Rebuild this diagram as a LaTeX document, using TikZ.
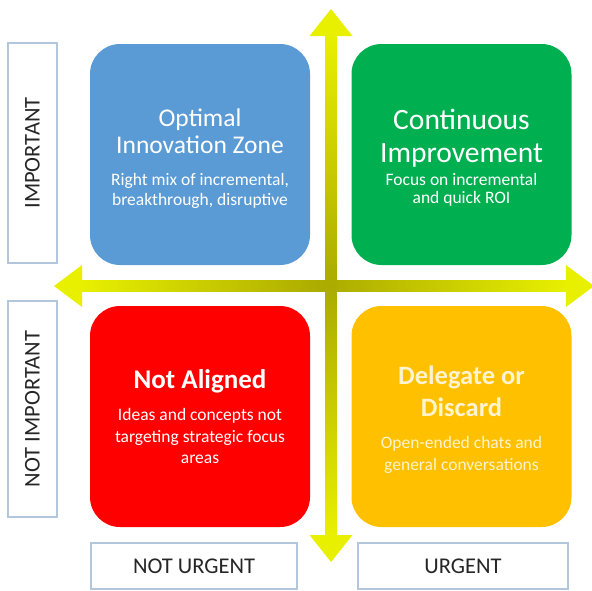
\documentclass[tikz,border=0pt]{standalone}
\usepackage{fontspec}
\setmainfont{Carlito}
\usetikzlibrary{calc}
\definecolor{qblue}{HTML}{5B9BD5}
\definecolor{qgreen}{HTML}{00B050}
\definecolor{qred}{HTML}{FF0000}
\definecolor{qgold}{HTML}{FFC000}
\definecolor{axisyellow}{HTML}{E8F000}
\definecolor{axisolive}{HTML}{ABAA00}
\definecolor{labelframe}{HTML}{B4C6DC}
\definecolor{labeltext}{HTML}{262626}
\definecolor{cream}{HTML}{FFF3D0}
\begin{document}
\begin{tikzpicture}[x=1pt,y=-1pt,
  quad/.style={rounded corners=30pt,inner sep=0pt,minimum width=220pt,minimum height=221pt},
  axislabel/.style={draw=labelframe,line width=1.1pt,fill=white,inner sep=0pt,text=labeltext,
    font=\fontsize{22.5}{26}\selectfont},
  qtitle/.style={text=white,align=center,inner sep=0pt},
  qtext/.style={text=white,align=center,inner sep=0pt,font=\fontsize{17.5}{20}\selectfont},
  axishead/.style={fill=axisyellow},
]
\useasboundingbox (0,0) rectangle (592,590);
\begin{scope}
\clip (0,0) rectangle (592,590);

% four quadrants
\node[quad,fill=qblue]  (q1) at (200,154.5) {};
\node[quad,fill=qgreen] (q2) at (461.5,154.5) {};
\node[quad,fill=qred]   (q3) at (200,416.5) {};
\node[quad,fill=qgold]  (q4) at (461.5,416.5) {};

% quadrant texts
\node[qtitle,font=\fontsize{25.5}{27}\selectfont] (t1) at (200,131) {Optimal\\Innovation Zone};
\node[qtext] (s1) at (200,191) {Right mix of incremental,\\breakthrough, disruptive};
\node[qtitle,font=\fontsize{29.5}{33}\selectfont] (t2) at (461.5,138) {Continuous\\Improvement};
\node[qtext,font=\fontsize{17.5}{18.5}\selectfont] (s2) at (461.5,190) {Focus on incremental\\and quick ROI};
\node[qtitle,font=\bfseries\fontsize{27}{30}\selectfont] (t3) at (200,381) {Not Aligned};
\node[qtext,font=\fontsize{17.5}{21.5}\selectfont] (s3) at (200,436) {Ideas and concepts not\\targeting strategic focus\\areas};
\node[qtitle,text=cream,font=\bfseries\fontsize{26.5}{32}\selectfont] (t4) at (461.5,391) {Delegate or\\Discard};
\node[qtext,text=cream,font=\fontsize{17.5}{22}\selectfont] (s4) at (461.5,455) {Open-ended chats and\\general conversations};

% axis labels
\node[axislabel,minimum width=49pt,minimum height=220pt] (imp) at (32.5,153) {};
\node[rotate=90,text=labeltext,font=\fontsize{22.5}{26}\selectfont] (impt) at (imp.center) {IMPORTANT};
\node[axislabel,minimum width=49pt,minimum height=216pt] (nimp) at (32.5,409) {};
\node[rotate=90,text=labeltext,font=\fontsize{22.5}{26}\selectfont] (nimpt) at (nimp.center) {NOT IMPORTANT};
\node[axislabel,minimum width=206pt,minimum height=46pt] (nurg) at (194,566) {NOT URGENT};
\node[axislabel,minimum width=210pt,minimum height=46pt] (urg) at (463,566) {URGENT};

% horizontal axis
\coordinate (hL) at (54,286);
\coordinate (hR) at (594,286);
\shade[left color=axisyellow,right color=axisyellow,middle color=axisolive]
  ($(hL)+(27.5,-5.8)$) rectangle ($(hR)+(-27.5,5.8)$);
\fill[axishead] (hL) -- ($(hL)+(28,-21)$) -- ($(hL)+(28,21)$) -- cycle;
\fill[axishead] (hR) -- ($(hR)+(-28,-21)$) -- ($(hR)+(-28,21)$) -- cycle;

% vertical axis
\coordinate (vT) at (331,9);
\coordinate (vB) at (331,562);
\shade[top color=axisyellow,bottom color=axisyellow,middle color=axisolive]
  ($(vT)+(-5.5,26.5)$) rectangle ($(vB)+(5.5,-26.5)$);
\fill[axishead] (vT) -- ($(vT)+(-21.5,27)$) -- ($(vT)+(21.5,27)$) -- cycle;
\fill[axishead] (vB) -- ($(vB)+(-21.5,-27)$) -- ($(vB)+(21.5,-27)$) -- cycle;
\end{scope}
\end{tikzpicture}
\end{document}
